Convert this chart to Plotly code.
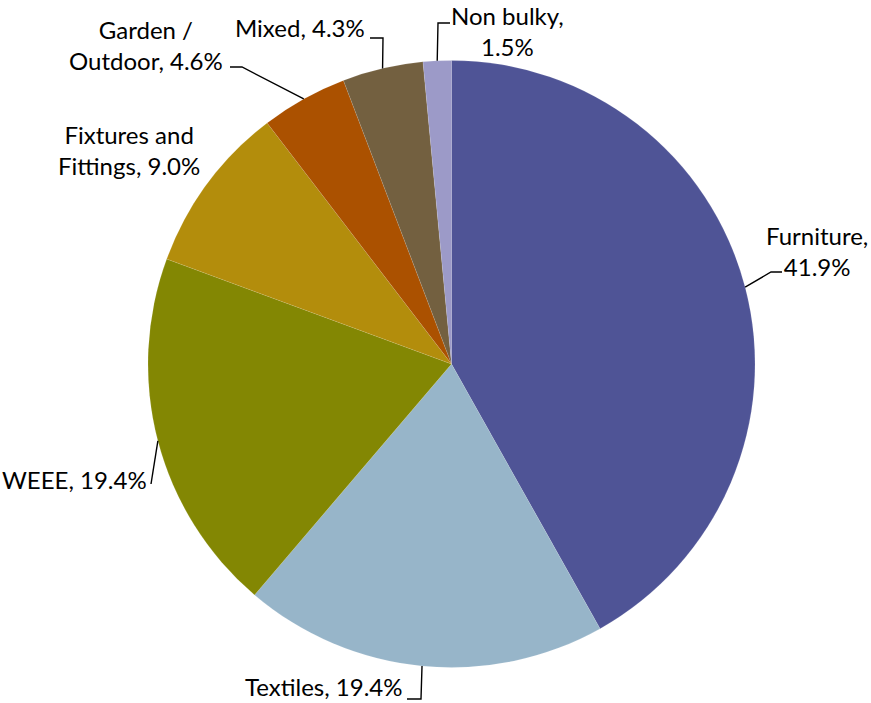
import math
import plotly.graph_objects as go

# Share of collected bulky waste by material stream (%)
categories = ["Furniture", "Textiles", "WEEE", "Fixtures and Fittings",
              "Garden / Outdoor", "Mixed", "Non bulky"]
shares = [41.9, 19.4, 19.4, 9.0, 4.6, 4.3, 1.5]
# how each label is wrapped onto lines
label_lines = [["Furniture,", "{v}"], ["Textiles, {v}"], ["WEEE, {v}"],
               ["Fixtures and", "Fittings, {v}"], ["Garden /", "Outdoor, {v}"],
               ["Mixed, {v}"], ["Non bulky,", "{v}"]]
colors = ["#4F5496", "#97B5C9", "#838703", "#B38D0C", "#AB5100", "#736040", "#9C9AC8"]

W, H = 871, 703
CX, CY, R = 451.5, 364.0, 303.5

# label anchor (px), anchor side, and leader-line elbow/end points (px)
label_pos = [(817, 251, "center"), (404, 686, "right"), (149, 480, "right"),
             (129, 150, "center"), (146, 45, "center"), (367, 28, "right"),
             (507, 31, "center")]
leader_pts = [[(771, 272), (782, 272)], [(421, 699), (407, 699)], [(151, 484)],
              None, [(242, 67), (230, 67)], [(383, 38), (370, 38)],
              [(438, 23), (450, 23)]]


def px(x, y):
    return x / W, 1 - y / H


fig = go.Figure(go.Pie(
    labels=categories,
    values=shares,
    sort=False,
    direction="clockwise",
    rotation=0,
    marker=dict(colors=colors, line=dict(color="rgba(255,255,255,0.2)", width=0.5)),
    textinfo="none",
    hoverinfo="label+percent",
    showlegend=False,
    domain=dict(x=[(CX - R) / W, (CX + R) / W], y=[1 - (CY + R) / H, 1 - (CY - R) / H]),
))

total = sum(shares)
cum = 0.0
annotations = []
shapes = []
for name, v, lines, (lx, ly, anchor), pts in zip(categories, shares, label_lines, label_pos, leader_pts):
    mid = (cum + v / 2) / total * 2 * math.pi
    cum += v
    ex = CX + R * math.sin(mid)
    ey = CY - R * math.cos(mid)
    txt = "<br>".join(s.format(v=f"{v:.1f}%") for s in lines)
    ax_, ay_ = px(lx, ly)
    annotations.append(dict(
        x=ax_, y=ay_, xref="paper", yref="paper", text=txt, showarrow=False,
        xanchor=anchor, yanchor="middle", align="center",
        font=dict(family="Lato, Carlito, Calibri, sans-serif", size=24, color="#000000"),
    ))
    if pts:
        path = "M {} {}".format(*px(ex, ey))
        for (qx, qy) in pts:
            path += " L {} {}".format(*px(qx, qy))
        shapes.append(dict(type="path", xref="paper", yref="paper", path=path,
                           line=dict(color="black", width=1.4)))

fig.update_layout(
    width=W, height=H,
    margin=dict(l=0, r=0, t=0, b=0),
    paper_bgcolor="white",
    plot_bgcolor="white",
    annotations=annotations,
    shapes=shapes,
)

fig.write_html("out.html")
